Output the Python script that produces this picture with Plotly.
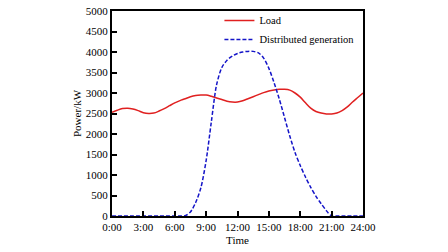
import plotly.graph_objects as go

hours = [h * 0.5 for h in range(49)]
tick_vals = [0, 3, 6, 9, 12, 15, 18, 21, 24]
tick_text = ["0:00", "3:00", "6:00", "9:00", "12:00", "15:00", "18:00", "21:00", "24:00"]

load = [2530, 2580, 2620, 2630, 2610, 2570, 2520, 2500, 2510, 2560, 2620, 2690,
        2760, 2815, 2860, 2910, 2940, 2950, 2950, 2920, 2880, 2840, 2800, 2780,
        2780, 2810, 2860, 2910, 2960, 3010, 3050, 3075, 3090, 3090, 3070, 3000,
        2900, 2760, 2630, 2550, 2510, 2490, 2490, 2510, 2570, 2660, 2780, 2890, 3000]

dg = [0, 0, 0, 0, 0, 0, 0, 0, 0, 0, 0, 0, 0, 0,
      10, 100, 330, 690, 1350, 2300, 3200, 3620, 3800, 3900, 3965, 4000,
      4015, 4015, 3980, 3850, 3600, 3250, 2850, 2400, 1950, 1550, 1230, 950,
      700, 480, 300, 130,
      0, 0, 0, 0, 0, 0, 0]

fig = go.Figure()
fig.add_trace(go.Scatter(x=hours, y=load, mode="lines", name="Load",
                         line=dict(color="#e02020", width=1.5, shape="spline", smoothing=0.8)))
fig.add_trace(go.Scatter(x=hours, y=dg, mode="lines", name="Distributed generation",
                         line=dict(color="#1414c8", width=1.5, dash="4px,2px",
                                   shape="spline", smoothing=0.8)))

font = dict(family="Liberation Serif", size=11, color="black")
fig.update_layout(
    width=448, height=252,
    margin=dict(l=112, r=85, t=6, b=36),
    paper_bgcolor="white", plot_bgcolor="white",
    font=font,
    showlegend=True,
    legend=dict(x=0.428, y=1.025, xanchor="left", yanchor="top",
                bgcolor="rgba(0,0,0,0)", font=dict(family="Liberation Serif", size=10.5),
                itemwidth=30, tracegroupgap=0),
    xaxis=dict(range=[0, 24], tickvals=tick_vals, ticktext=tick_text,
               ticks="inside", ticklen=5, tickwidth=1.5, tickcolor="black",
               showline=True, linewidth=2, linecolor="black", mirror=True,
               showgrid=False, zeroline=False, automargin=False,
               title=dict(text="Time", standoff=4, font=font)),
    yaxis=dict(range=[0, 5000], dtick=500,
               ticks="inside", ticklen=5, tickwidth=1.5, tickcolor="black",
               showline=True, linewidth=2, linecolor="black", mirror=True,
               showgrid=False, zeroline=False, automargin=False,
               title=dict(text="Power/kW", standoff=2, font=font)),
)
fig.write_html("out.html", config={"displayModeBar": False},
               post_script="document.body.style.margin='0';")
